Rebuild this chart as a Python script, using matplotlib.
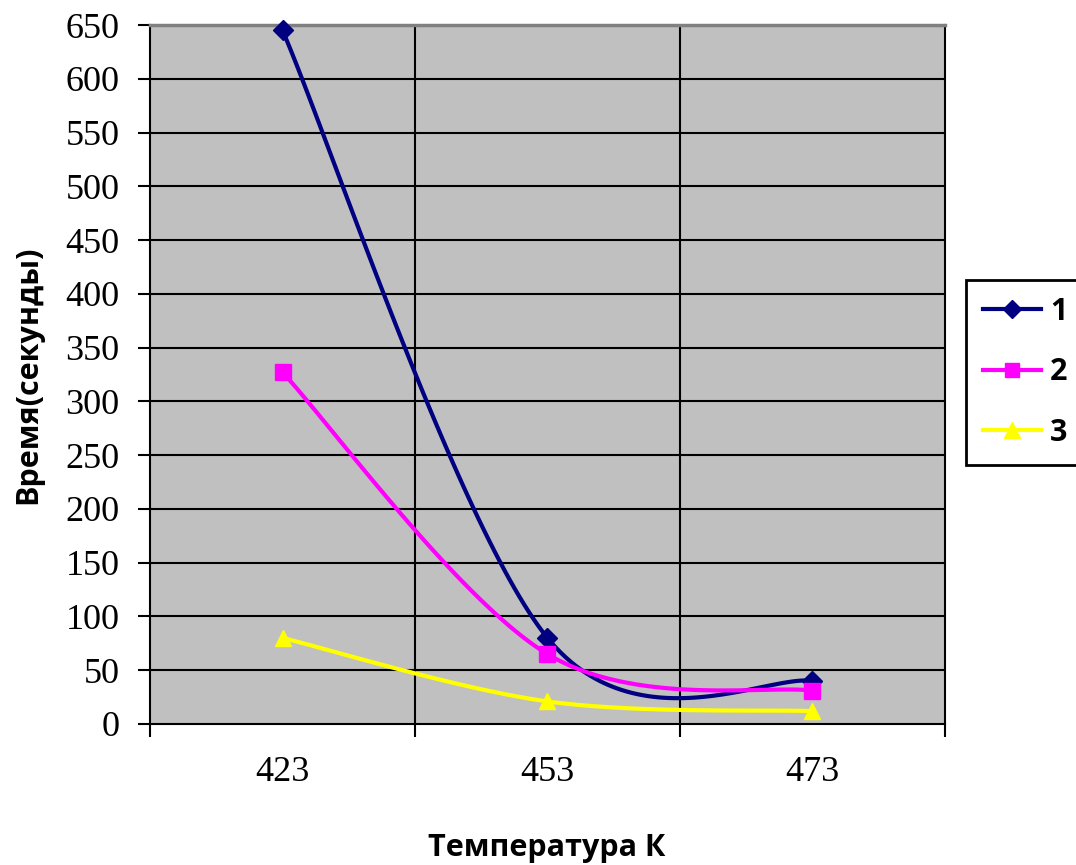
""" Время реакции в зависимости от температуры """

import numpy as np
import matplotlib
matplotlib.use('Agg')
import matplotlib.pyplot as plt
from matplotlib.ticker import FixedLocator, NullFormatter, FixedFormatter

# Data
temperatures = ['423', '453', '473']
series_names = ['1', '2', '3']
series_1 = [645, 80, 40]
series_2 = [327, 65, 31]
series_3 = [80, 21, 12]

colors = ['#000080', '#FF00FF', '#FFFF00']
markers = ['D', 's', '^']
marker_sizes = [10, 11, 12]


def smooth_curve(x, y, steps=60):
    """ Bezier smoothing through the points, like spreadsheet smoothed lines """
    x = np.asarray(x, dtype=float)
    y = np.asarray(y, dtype=float)
    px = np.concatenate([[x[0]], x, [x[-1]]])
    py = np.concatenate([[y[0]], y, [y[-1]]])
    out_x, out_y = [], []
    t = np.linspace(0, 1, steps)
    for i in range(1, len(px) - 2):
        p0 = np.array([px[i], py[i]])
        p3 = np.array([px[i + 1], py[i + 1]])
        c1 = p0 + (np.array([px[i + 1], py[i + 1]]) - np.array([px[i - 1], py[i - 1]])) / 6
        c2 = p3 - (np.array([px[i + 2], py[i + 2]]) - np.array([px[i], py[i]])) / 6
        bx = (1 - t) ** 3 * p0[0] + 3 * (1 - t) ** 2 * t * c1[0] + 3 * (1 - t) * t ** 2 * c2[0] + t ** 3 * p3[0]
        by = (1 - t) ** 3 * p0[1] + 3 * (1 - t) ** 2 * t * c1[1] + 3 * (1 - t) * t ** 2 * c2[1] + t ** 3 * p3[1]
        out_x.extend(bx)
        out_y.extend(by)
    return np.array(out_x), np.array(out_y)


fig = plt.figure(figsize=(10.76, 8.65), dpi=100)
ax = fig.add_axes([150 / 1076, 141 / 865, 795 / 1076, 699 / 865])
ax.set_facecolor('#C0C0C0')

positions = np.arange(len(temperatures)) + 0.5

handles = []
for values, name, color, marker, ms in zip([series_1, series_2, series_3], series_names,
                                           colors, markers, marker_sizes):
    sx, sy = smooth_curve(positions, values)
    ax.plot(sx, sy, color=color, lw=3, solid_capstyle='round', zorder=3, clip_on=False)
    ax.plot(positions, values, linestyle='none', marker=marker, ms=ms, color=color,
            markeredgecolor=color, zorder=4, clip_on=False)
    h, = ax.plot([], [], color=color, lw=3, marker=marker, ms=ms - 1, markeredgecolor=color)
    handles.append(h)

ax.set_xlim(0, 3)
ax.set_ylim(0, 650)

# Category axis: ticks between categories, labels at category centres
ax.xaxis.set_major_locator(FixedLocator([0, 1, 2, 3]))
ax.xaxis.set_major_formatter(NullFormatter())
ax.xaxis.set_minor_locator(FixedLocator(positions))
ax.xaxis.set_minor_formatter(FixedFormatter(temperatures))
ax.tick_params(axis='x', which='major', direction='out', length=9, width=1.5, color='black')
ax.tick_params(axis='x', which='minor', length=0, pad=23, labelsize=26)
ax.set_yticks(np.arange(0, 651, 50))
ax.tick_params(axis='y', direction='out', length=9, width=1.5, color='black', labelsize=26, pad=13)
for lbl in ax.get_xticklabels(minor=True) + ax.get_yticklabels():
    lbl.set_family('Liberation Serif')

# Grid lines
for yv in range(50, 650, 50):
    ax.axhline(yv, color='black', lw=1.5, zorder=1)
for xv in [1, 2]:
    ax.axvline(xv, color='black', lw=1.5, zorder=1)

for side in ['left', 'bottom', 'right']:
    ax.spines[side].set_color('black')
    ax.spines[side].set_linewidth(1.5)
ax.spines['top'].set_color('#808080')
ax.spines['top'].set_linewidth(2.5)

fig.text(547 / 1076, 1 - 848 / 865, 'Температура К', fontsize=22, fontweight='bold',
         family='Open Sans', ha='center', va='center')
fig.text(28 / 1076, 1 - 375 / 865, 'Время(секунды)', fontsize=22, fontweight='bold',
         family='Open Sans', ha='center', va='center', rotation=90)

leg = fig.legend(handles, series_names, loc='upper left', bbox_to_anchor=(966 / 1076, 1 - 280 / 865),
                 frameon=True, fancybox=False, edgecolor='black', handlelength=1.9,
                 prop={'family': 'Open Sans', 'weight': 'bold', 'size': 22},
                 labelspacing=1.0, borderpad=0.55, handletextpad=0.3, borderaxespad=0)
leg.get_frame().set_linewidth(2)
leg.get_frame().set_alpha(1)

fig.savefig('out.png', dpi=100)
